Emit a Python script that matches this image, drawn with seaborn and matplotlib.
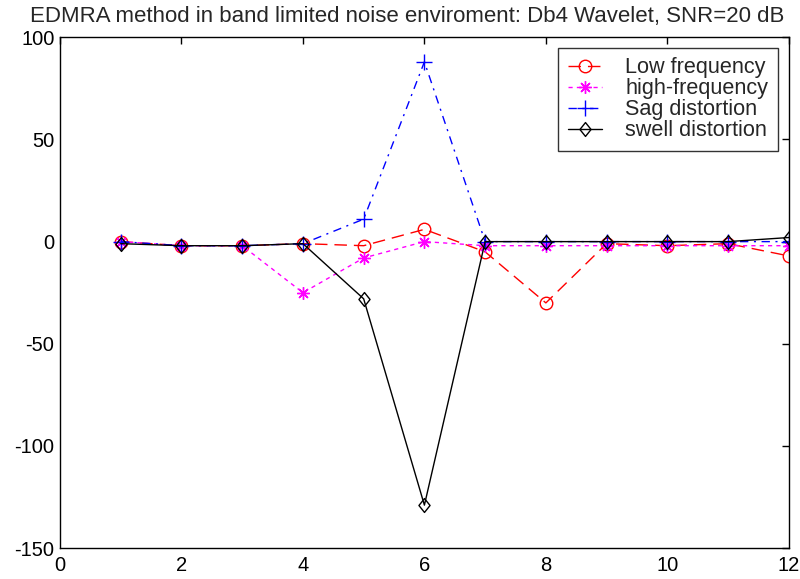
import matplotlib
matplotlib.use("Agg")
import matplotlib.pyplot as plt
from matplotlib.path import Path
import seaborn as sns
import pandas as pd

sns.set_theme(style="white")
plt.rcParams['font.family'] = ['Liberation Sans', 'DejaVu Sans']
plt.rcParams['axes.unicode_minus'] = False

scale = [1, 2, 3, 4, 5, 6, 7, 8, 9, 10, 11, 12]
low_freq = [0, -2, -2, -1, -2, 6, -5, -30, -1, -2, -1, -7]
high_freq = [0, -2, -2, -25, -8, 0, -2, -2, -2, -2, -2, -2]
sag = [0, -2, -2, -1, 11, 88, 0, 0, 0, 0, 0, 0]
swell = [-1, -2, -2, -1, -28, -129, 0, 0, 0, 0, 0, 2]

# slightly tall diamond
diamond = Path([(0, 1), (0.8, 0), (0, -1), (-0.8, 0), (0, 1)],
               [Path.MOVETO, Path.LINETO, Path.LINETO, Path.LINETO, Path.CLOSEPOLY])
asterisk = (8, 2, 0)

series = [
    ("Low frequency", low_freq, "#ff0000", (0, (9, 5)), "o", "none", 9),
    ("high-frequency", high_freq, "#ff00ff", (0, (3, 3)), asterisk, "#ff00ff", 9),
    ("Sag distortion", sag, "#0000ff", (0, (6, 4, 1.5, 4)), "+", "#0000ff", 12),
    ("swell distortion", swell, "#000000", "-", diamond, "none", 10),
]

fig = plt.figure(figsize=(8.0, 5.79), dpi=100)
ax = fig.add_axes([0.075, 0.0535, 0.911, 0.882])

for name, vals, color, ls, mk, mfc, ms in series:
    df = pd.DataFrame({"x": scale, "y": vals})
    sns.lineplot(data=df, x="x", y="y", ax=ax, color=color, linestyle=ls,
                 marker=mk, markersize=ms, markerfacecolor=mfc,
                 markeredgecolor=color, markeredgewidth=1.0, linewidth=1.0,
                 label=name)

ax.set_xlim(0, 12)
ax.set_ylim(-150, 100)
ax.set_xticks([0, 2, 4, 6, 8, 10, 12])
ax.set_yticks([-150, -100, -50, 0, 50, 100])
ax.set_xlabel("")
ax.set_ylabel("")
ax.tick_params(direction="in", length=5, width=1, top=True, right=True,
               labelsize=14.5, colors="black", pad=4)
ax.tick_params(axis="x", pad=6)
for sp in ax.spines.values():
    sp.set_color("black")
    sp.set_linewidth(1.0)

fig.text(0.509, 0.962,
         "EDMRA method in band limited noise enviroment: Db4 Wavelet, SNR=20 dB",
         fontsize=16, ha="center", va="baseline")

leg = ax.legend(loc="upper right", bbox_to_anchor=(0.985, 0.98), fontsize=15.6,
                frameon=True, fancybox=False, edgecolor="black",
                borderpad=0.45, labelspacing=0.0, handlelength=1.6,
                handletextpad=1.05, borderaxespad=0.0)
leg.get_frame().set_linewidth(1.0)

fig.savefig("out.png", dpi=100)
